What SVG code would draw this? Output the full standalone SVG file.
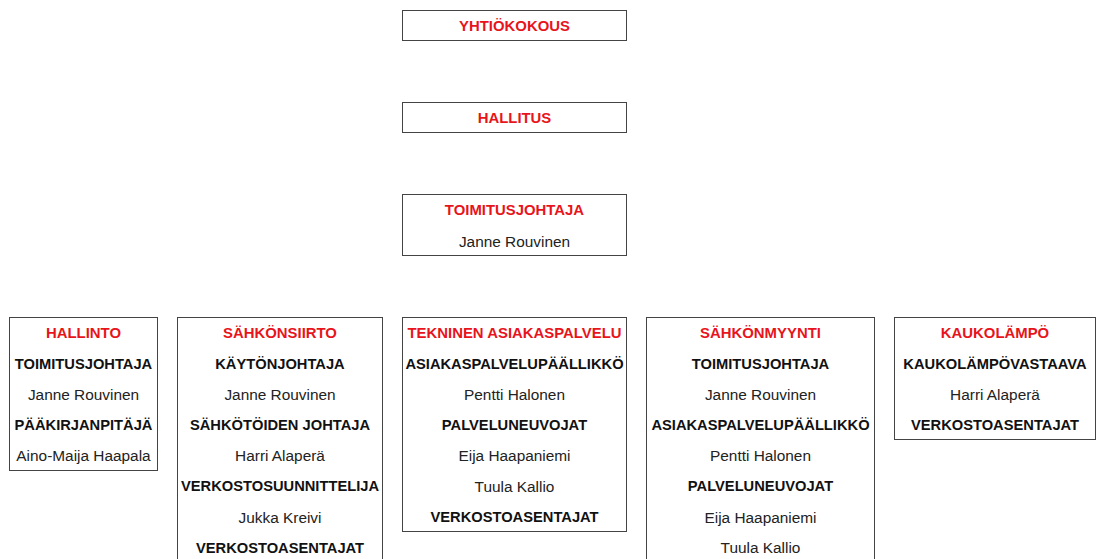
<svg xmlns="http://www.w3.org/2000/svg" width="1098" height="559" viewBox="0 0 1098 559">
<style>
.box{fill:#fff;stroke:#444;stroke-width:1}
text{font-family:"Liberation Sans",Arial,sans-serif;text-anchor:middle;dominant-baseline:central}
.h{fill:#e8141b;font-weight:bold;font-size:14.9px}
.t{fill:#111;font-weight:bold;font-size:14.7px}
.n{fill:#222;font-size:15.4px}
</style>
<rect width="1098" height="559" fill="#fff"/>
<g id="connectors"></g>
<g id="yhtiokokous">
<rect class="box" x="402.5" y="10.5" width="224" height="30"/>
<text class="h" x="514.5" y="25.5">YHTIÖKOKOUS</text>
</g>
<g id="hallitus">
<rect class="box" x="402.5" y="102.5" width="224" height="30"/>
<text class="h" x="514.5" y="117.5">HALLITUS</text>
</g>
<g id="toimitusjohtaja">
<rect class="box" x="402.5" y="194.5" width="224" height="61"/>
<text class="h" x="514.5" y="210">TOIMITUSJOHTAJA</text>
<text class="n" x="514.5" y="241">Janne Rouvinen</text>
</g>
<g id="hallinto">
<rect class="box" x="9.5" y="317.5" width="148" height="153"/>
<text class="h" x="83.5" y="332.5">HALLINTO</text>
<text class="t" x="83.5" y="363.5">TOIMITUSJOHTAJA</text>
<text class="n" x="83.5" y="394">Janne Rouvinen</text>
<text class="t" x="83.5" y="424.5">PÄÄKIRJANPITÄJÄ</text>
<text class="n" x="83.5" y="455">Aino-Maija Haapala</text>
</g>
<g id="sahkonsiirto">
<rect class="box" x="177.5" y="317.5" width="205" height="250"/>
<text class="h" x="280" y="332.5">SÄHKÖNSIIRTO</text>
<text class="t" x="280" y="363.5">KÄYTÖNJOHTAJA</text>
<text class="n" x="280" y="394">Janne Rouvinen</text>
<text class="t" x="280" y="424.5">SÄHKÖTÖIDEN JOHTAJA</text>
<text class="n" x="280" y="455">Harri Alaperä</text>
<text class="t" x="280" y="486">VERKOSTOSUUNNITTELIJA</text>
<text class="n" x="280" y="517">Jukka Kreivi</text>
<text class="t" x="280" y="547.5">VERKOSTOASENTAJAT</text>
</g>
<g id="tekninen-asiakaspalvelu">
<rect class="box" x="402.5" y="317.5" width="224" height="214"/>
<text class="h" x="514.5" y="332.5">TEKNINEN ASIAKASPALVELU</text>
<text class="t" x="514.5" y="363.5">ASIAKASPALVELUPÄÄLLIKKÖ</text>
<text class="n" x="514.5" y="394">Pentti Halonen</text>
<text class="t" x="514.5" y="424.5">PALVELUNEUVOJAT</text>
<text class="n" x="514.5" y="455">Eija Haapaniemi</text>
<text class="n" x="514.5" y="486">Tuula Kallio</text>
<text class="t" x="514.5" y="516.5">VERKOSTOASENTAJAT</text>
</g>
<g id="sahkonmyynti">
<rect class="box" x="646.5" y="317.5" width="228" height="250"/>
<text class="h" x="760.5" y="332.5">SÄHKÖNMYYNTI</text>
<text class="t" x="760.5" y="363.5">TOIMITUSJOHTAJA</text>
<text class="n" x="760.5" y="394">Janne Rouvinen</text>
<text class="t" x="760.5" y="424.5">ASIAKASPALVELUPÄÄLLIKKÖ</text>
<text class="n" x="760.5" y="455">Pentti Halonen</text>
<text class="t" x="760.5" y="486">PALVELUNEUVOJAT</text>
<text class="n" x="760.5" y="517">Eija Haapaniemi</text>
<text class="n" x="760.5" y="547.5">Tuula Kallio</text>
</g>
<g id="kaukolampo">
<rect class="box" x="894.5" y="317.5" width="201" height="122"/>
<text class="h" x="995" y="332.5">KAUKOLÄMPÖ</text>
<text class="t" x="995" y="363.5">KAUKOLÄMPÖVASTAAVA</text>
<text class="n" x="995" y="394">Harri Alaperä</text>
<text class="t" x="995" y="424.5">VERKOSTOASENTAJAT</text>
</g>
</svg>
